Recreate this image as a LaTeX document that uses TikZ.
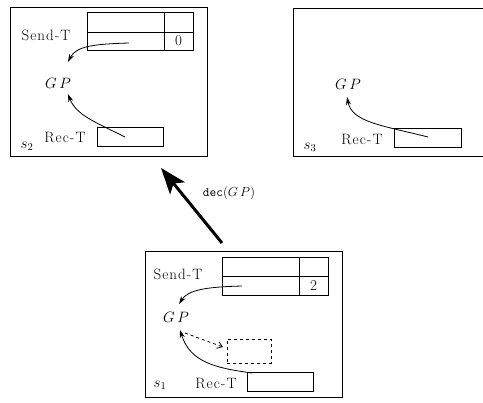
\RequirePackage{fix-cm}
\documentclass[tikz,border=0pt]{standalone}
\usepackage{fontspec}
\setmainfont{Latin Modern Roman}[LetterSpace=7]
\usetikzlibrary{arrows.meta,fit}
\begin{document}
\begin{tikzpicture}[x=1pt,y=-1pt,line width=0.9pt,
  txt/.style={font=\fontsize{15}{18}\selectfont,inner sep=0pt},
  small/.style={font=\fontsize{13}{15}\selectfont,inner sep=0pt},
  cell/.style={draw,inner sep=0pt},
  frame/.style={draw,line width=0.9pt,inner sep=0pt},
  dbox/.style={draw,dashed,inner sep=0pt},
  arr/.style={-{Stealth[length=8pt,width=5pt]},line width=0.8pt},
  darr/.style={-{Straight Barb[length=5pt,width=7pt]},dashed,line width=0.8pt},
  bigarr/.style={-{Stealth[length=26pt,width=19pt,inset=6pt]},line width=3pt}]
\useasboundingbox (0,0) rectangle (483,403);
% ---------- s2 ----------
\node[frame,fit={(10,7) (207,156)}] (f2) {};
\node[cell,fit={(87,12) (164,32)}] (a11) {};
\node[cell,fit={(164,12) (193,32)}] (a12) {};
\node[cell,fit={(87,32) (164,50)}] (a21) {};
\node[cell,fit={(164,32) (193,50)}] (a22) {};
\node[txt] (a0) at (a22.center) {0};
\node[txt] (sendA) at (46,35) {Send-T};
\node[txt] (gpA) at (58,83) {$G\,P$};
\node[cell,fit={(97,127) (163,146)}] (recboxA) {};
\node[txt] (recA) at (65,138) {Rec-T};
\node[txt] (sA) at (27,146) {$s_2$};
\coordinate (pa1) at (129,43);
\coordinate (pa2) at (125,137);
\coordinate (ta1) at (68,62);
\coordinate (ta2) at (68,94);
\draw[arr] (pa1) .. controls (95,44) and (76,46) .. (ta1);
\draw[arr] (pa2) .. controls (95,122) and (76,115) .. (ta2);
% ---------- s3 ----------
\node[frame,fit={(293,8) (490,156)}] (f3) {};
\node[txt] (gpB) at (348,84) {$G\,P$};
\node[cell,fit={(394,128) (461,147)}] (recboxB) {};
\node[txt] (recB) at (362,140) {Rec-T};
\node[txt] (sB) at (310,147) {$s_3$};
\coordinate (pb) at (428,137);
\coordinate (tb) at (347,97);
\draw[arr] (pb) .. controls (380,125) and (352,122) .. (tb);
% ---------- s1 ----------
\node[frame,fit={(145,251) (342,397)}] (f1) {};
\node[cell,fit={(222,257) (299,276)}] (b11) {};
\node[cell,fit={(299,257) (328,276)}] (b12) {};
\node[cell,fit={(222,276) (299,295)}] (b21) {};
\node[cell,fit={(299,276) (328,295)}] (b22) {};
\node[txt] (b2) at (b22.center) {2};
\node[txt] (sendC) at (178,274) {Send-T};
\node[txt] (gpC) at (176,317) {$G\,P$};
\node[dbox,fit={(227,339) (271,363)}] (dbox) {};
\node[cell,fit={(247,372) (313,391)}] (recboxC) {};
\node[txt] (recC) at (216,384) {Rec-T};
\node[txt] (sC) at (160,385) {$s_1$};
\coordinate (pc1) at (242,286);
\coordinate (pc2) at (252,373);
\coordinate (tc1) at (179,304);
\coordinate (tc2) at (180,330);
\coordinate (dc0) at (185,333);
\coordinate (dc1) at (223,347);
\draw[arr] (pc1) .. controls (205,287) and (188,290) .. (tc1);
\draw[arr] (pc2) .. controls (215,368) and (190,362) .. (tc2);
\draw[darr] (dc0) -- (dc1);
% ---------- big arrow ----------
\coordinate (bt) at (222,243);
\coordinate (bh) at (161,168);
\draw[bigarr] (bt) -- (bh);
\node[small] (dec) at (229,193) {\texttt{dec}$(G\,P)$};
\end{tikzpicture}
\end{document}
